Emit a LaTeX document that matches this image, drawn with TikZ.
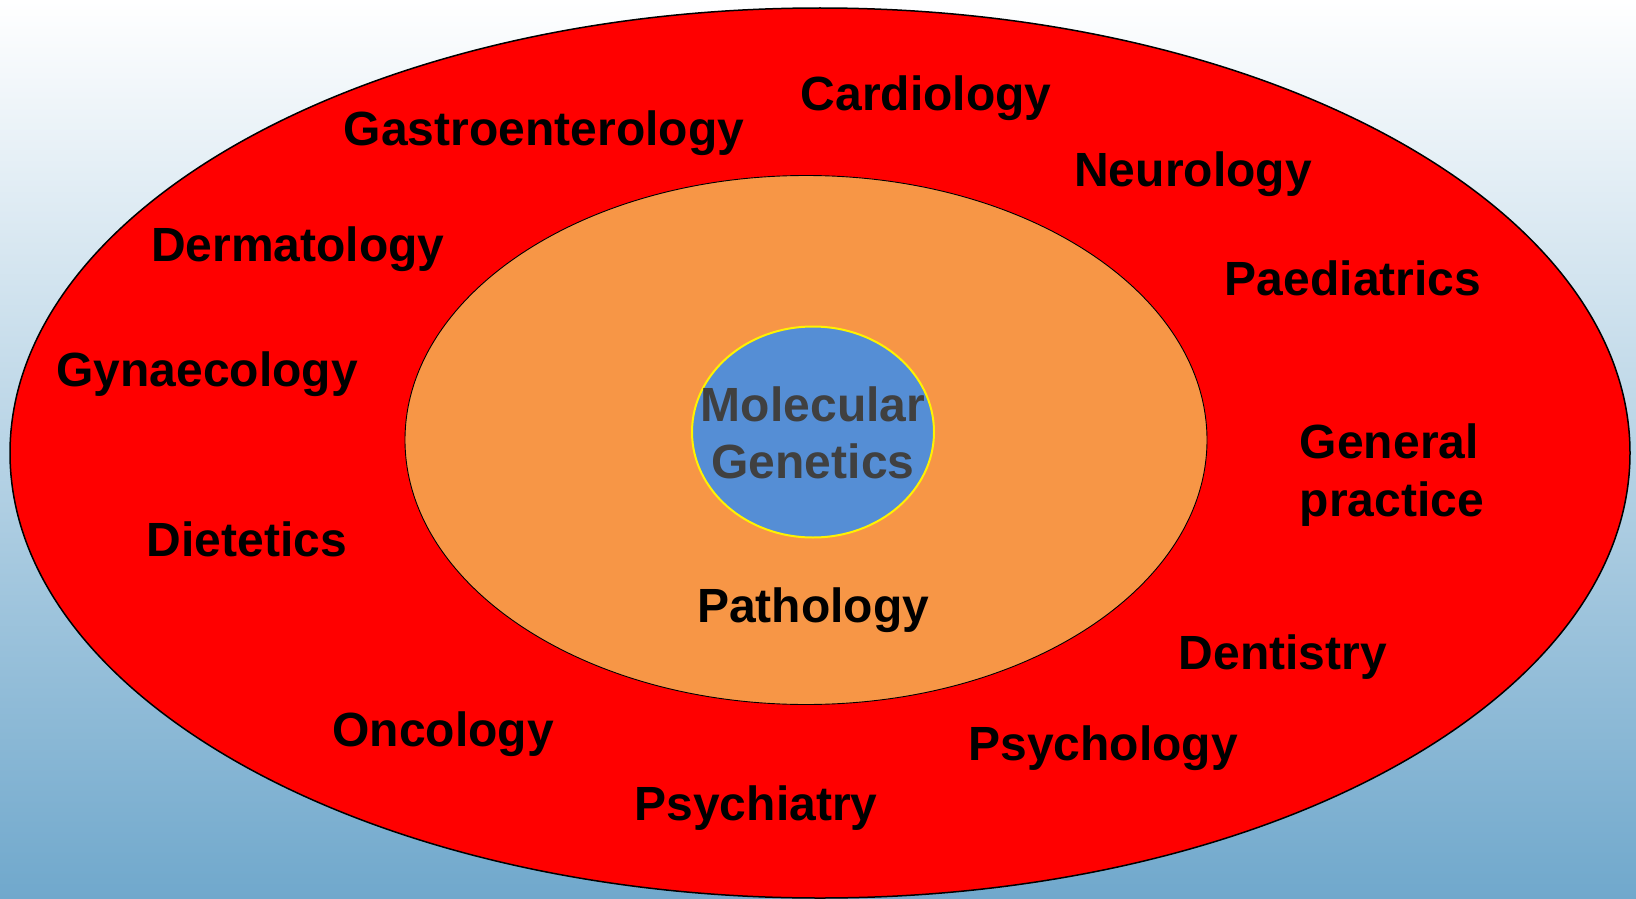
\documentclass[tikz,border=0pt]{standalone}
\usepackage{fontspec}
\setmainfont{Liberation Sans}
\definecolor{bgbot}{RGB}{112,168,204}
\definecolor{bgmid}{RGB}{218,232,242}
\definecolor{orng}{RGB}{247,150,70}
\definecolor{blu}{RGB}{85,142,213}
\definecolor{dgray}{RGB}{64,64,64}
\begin{document}
\begin{tikzpicture}[x=1pt,y=-1pt,
  lbl/.style={inner sep=0pt,font=\fontsize{48}{57.5}\selectfont\bfseries,text=black},
  ringline/.style={draw=black,line width=1.5pt}]
\useasboundingbox (0,0) rectangle (1636,899);
\shade[top color=white, middle color=bgmid, bottom color=bgbot] (0,0) rectangle (1636,899);
\draw[ringline,fill=red] (820,453) ellipse [x radius=810, y radius=445];
\draw[draw=black,line width=0.9pt,fill=orng] (806,440) ellipse [x radius=401, y radius=264.5];
\draw[draw=yellow,line width=2pt,fill=blu] (813,432) ellipse [x radius=121, y radius=105.5];
\node[lbl] (card) at (926,98) {Cardiology};
\node[lbl] (gast) at (544,133) {Gastroenterology};
\node[lbl] (neur) at (1193,174) {Neurology};
\node[lbl] (derm) at (298,249) {Dermatology};
\node[lbl] (paed) at (1353,278) {Paediatrics};
\node[lbl] (gyna) at (207,374) {Gynaecology};
\node[lbl,align=center,text=dgray] (molg) at (813,433) {Molecular\\Genetics};
\node[lbl,align=left] (genp) at (1392,475) {General\\practice};
\node[lbl] (diet) at (247,539) {Dietetics};
\node[lbl] (path) at (813,610) {Pathology};
\node[lbl] (dent) at (1283,657) {Dentistry};
\node[lbl] (onco) at (443,734) {Oncology};
\node[lbl] (psyo) at (1103,748) {Psychology};
\node[lbl] (psyc) at (756,808) {Psychiatry};
\end{tikzpicture}
\end{document}
